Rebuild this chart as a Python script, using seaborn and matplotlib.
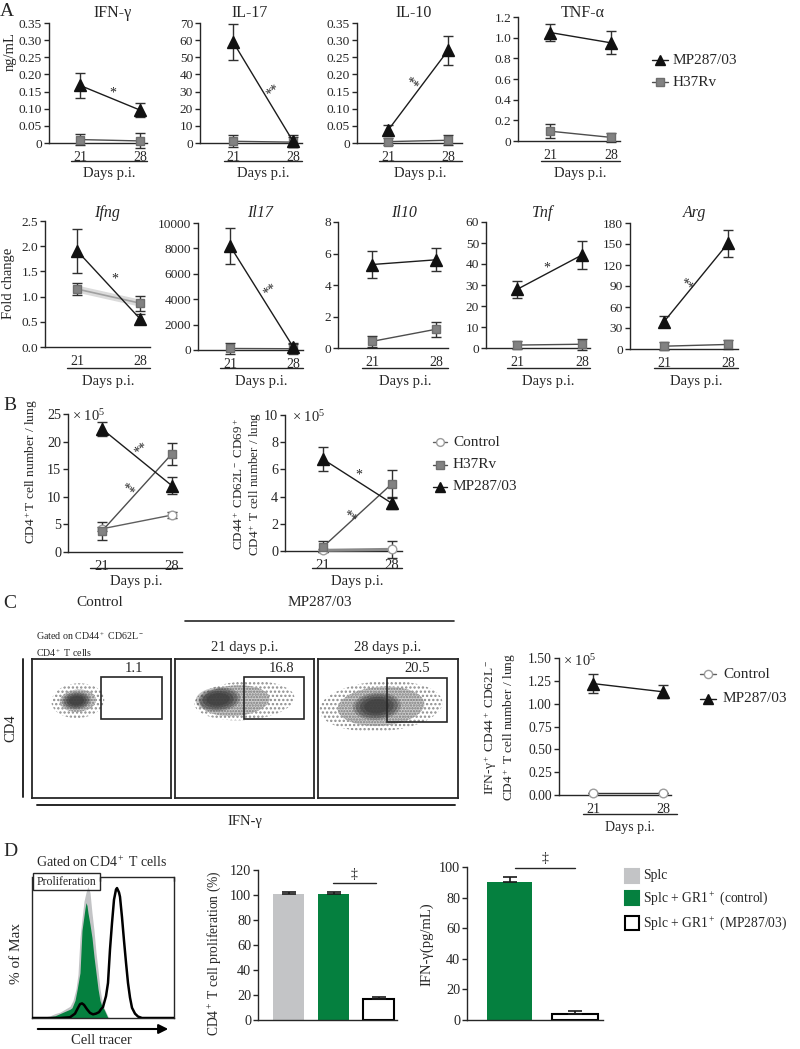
import numpy as np
import pandas as pd
import matplotlib
matplotlib.use('Agg')
import matplotlib.pyplot as plt
import matplotlib.transforms as mtrans
from matplotlib.lines import Line2D
from matplotlib.patches import Rectangle, Ellipse, FancyArrowPatch
from matplotlib.collections import LineCollection
import seaborn as sns

sns.set_theme(style='ticks')
plt.rcParams['font.family'] = ['Liberation Serif', 'DejaVu Serif']
plt.rcParams['mathtext.fontset'] = 'custom'
plt.rcParams['mathtext.rm'] = 'Liberation Serif'
plt.rcParams['mathtext.it'] = 'Liberation Serif:italic'
plt.rcParams['hatch.linewidth'] = 1.1

# ---------------- data ----------------
days = [21, 28]

# Panel A (protein, ng/mL)
ifng_mp, ifng_mp_sem = [0.168, 0.096], [0.036, 0.020]
ifng_h37, ifng_h37_sem = [0.010, 0.006], [0.016, 0.022]
il17_mp, il17_mp_sem = [59.0, 1.0], [10.3, 3.5]
il17_h37, il17_h37_sem = [1.0, 0.5], [3.5, 3.0]
il10_mp, il10_mp_sem = [0.037, 0.270], [0.015, 0.043]
il10_h37, il10_h37_sem = [0.004, 0.008], [0.010, 0.015]
tnfa_mp, tnfa_mp_sem = [1.05, 0.95], [0.08, 0.11]
tnfa_h37, tnfa_h37_sem = [0.095, 0.035], [0.065, 0.045]

# Panel A (mRNA fold change)
ifng_fc_mp, ifng_fc_mp_sem = [1.91, 0.56], [0.44, 0.10]
ifng_fc_h37, ifng_fc_h37_sem = [1.15, 0.87], [0.12, 0.15]
il17_fc_mp, il17_fc_mp_sem = [8200, 260], [1400, 300]
il17_fc_h37, il17_fc_h37_sem = [120, 100], [450, 400]
il10_fc_mp, il10_fc_mp_sem = [5.3, 5.6], [0.87, 0.74]
il10_fc_h37, il10_fc_h37_sem = [0.42, 1.19], [0.36, 0.48]
tnf_fc_mp, tnf_fc_mp_sem = [27.9, 44.3], [4.0, 6.5]
tnf_fc_h37, tnf_fc_h37_sem = [1.4, 1.8], [2.0, 2.7]
arg_fc_mp, arg_fc_mp_sem = [39, 151], [7.5, 19]
arg_fc_h37, arg_fc_h37_sem = [4.0, 6.5], [6.0, 6.0]

# Panel B (x 10^5 cells / lung)
cd4_ctrl, cd4_ctrl_sem = [4.2, 6.7], [0.4, 0.5]
cd4_h37, cd4_h37_sem = [3.8, 17.8], [1.6, 2.0]
cd4_mp, cd4_mp_sem = [22.3, 12.0], [1.3, 1.5]
act_ctrl, act_ctrl_sem = [0.05, 0.12], [0.10, 0.60]
act_h37, act_h37_sem = [0.30, 4.95], [0.40, 1.00]
act_mp, act_mp_sem = [6.75, 3.50], [0.87, 0.40]

# Panel C
flow_titles = ['', '21 days p.i.', '28 days p.i.']
flow_pct = ['1.1', '16.8', '20.5']
ifn_ctrl, ifn_ctrl_sem = [0.02, 0.02], [0.0, 0.0]
ifn_mp, ifn_mp_sem = [1.22, 1.13], [0.10, 0.07]

# Panel D
d_groups = ['Splc', 'Splc + GR1$^+$ (control)', 'Splc + GR1$^+$ (MP287/03)']
prolif = [101, 101, 17]
prolif_sem = [1.2, 1.2, 1.5]
ifn_d_groups = ['Splc + GR1$^+$ (control)', 'Splc + GR1$^+$ (MP287/03)']
ifn_d = [90, 3.8]
ifn_d_sem = [3.5, 2.3]

# histogram traces (cell tracer channel, % of max)
h_black_x = [0, 28, 38, 43, 46, 48, 50, 52, 55, 58, 61, 64, 67, 69, 71, 74, 76, 78, 80, 82,
             84, 85, 87, 88, 90, 92, 94, 96, 98, 100, 103, 106, 110, 142]
h_black_y = [0, 0, 0.5, 3, 7, 9.5, 10, 9, 6, 3.5, 2.5, 3, 4, 6, 7.5, 15, 24, 47, 65, 81,
             88, 89, 86, 83, 69, 53, 38, 24, 14, 7, 3, 1, 0, 0]
h_gray_x = [8, 18, 23, 28, 33, 38, 41, 44, 46, 48, 50, 52, 54, 56, 58, 60, 62, 64, 66, 68,
            70, 72, 74, 76, 78]
h_gray_y = [0, 1.5, 3, 4, 6, 8, 12, 20, 30, 55, 68, 80, 86, 90, 86, 72, 60, 45, 33, 20,
            12, 7, 4, 1, 0]
h_green_x = [13, 18, 23, 28, 33, 38, 40, 43, 45, 48, 50, 52, 53, 54, 55, 56, 58, 60, 62, 64,
             66, 68, 70, 72, 74, 76]
h_green_y = [0, 1, 1.5, 3, 4.5, 6, 7, 12, 19, 31, 60, 70, 75, 79, 77, 72, 64, 55, 42, 31,
             20, 12, 8, 6, 3, 0]

# ---------------- figure ----------------
INK = '#262626'
fig = plt.figure(figsize=(8, 10.49), dpi=100)
fig.patch.set_facecolor('white')
PX = mtrans.Affine2D().scale(1 / 800, -1 / 1049).translate(0, 1) + fig.transFigure


def T(x, y, s, **kw):
    kw.setdefault('ha', 'center')
    kw.setdefault('va', 'center')
    kw.setdefault('color', INK)
    return fig.text(x, y, s, transform=PX, **kw)


def L(xs, ys, **kw):
    kw.setdefault('color', INK)
    kw.setdefault('lw', 1.0)
    ln = Line2D(xs, ys, transform=PX, **kw)
    fig.add_artist(ln)
    return ln


def add_ax(x0, y0, x1, y1):
    ax = fig.add_axes([x0 / 800, 1 - y1 / 1049, (x1 - x0) / 800, (y1 - y0) / 1049])
    ax.patch.set_alpha(0)
    return ax


def style_spines(ax, which=('left', 'bottom')):
    for s in ['left', 'right', 'top', 'bottom']:
        ax.spines[s].set_visible(s in which)
        ax.spines[s].set_color(INK)
        ax.spines[s].set_linewidth(1.0)


STY = {
    'mp': dict(color='#1c1c1c', marker='^', markersize=8, markerfacecolor='#111111',
               markeredgecolor='#111111', linewidth=1.0),
    'h37': dict(color='#4d4d4d', marker='s', markersize=6.2, markerfacecolor='#828282',
                markeredgecolor='#6e6e6e', linewidth=1.0),
    'ctrl': dict(color='#5e5e5e', marker='o', markersize=6.2, markerfacecolor='white',
                 markeredgecolor='#9c9c9c', linewidth=1.0),
}


def series(ax, vals, sem, kind, z=3, **over):
    st = dict(STY[kind])
    st.update(over)
    ax.errorbar(days, vals, yerr=sem, fmt='none', ecolor='#303030', elinewidth=1.0,
                capsize=3.6, capthick=1.0, zorder=z - 0.5)
    sns.lineplot(x=days, y=vals, ax=ax, errorbar=None, legend=False, clip_on=False,
                 zorder=z, markeredgewidth=1.0, **st)


def line_ax(x0, x1, ytop, ybot, p21, p28, ymax, ticks, labels, fs=9.6):
    ax = add_ax(x0, ytop, x1, ybot)
    sc = (p28 - p21) / 7.0
    ax.set_xlim(21 - (p21 - x0) / sc, 28 + (x1 - p28) / sc)
    ax.set_ylim(0, ymax)
    ax.set_yticks(ticks)
    ax.set_yticklabels(labels)
    ax.set_xticks(days)
    ax.set_xticklabels(['21', '28'])
    style_spines(ax)
    ax.tick_params(axis='y', length=3.5, width=1.0, pad=1.5, labelsize=fs, colors=INK)
    ax.tick_params(axis='x', length=0, pad=6, labelsize=fs + 0.4, colors=INK)
    ax.set_xlabel('')
    ax.set_ylabel('')
    return ax


def days_label(x0, x1, yl, yt, fs=10.5):
    L([x0, x1], [yl, yl], lw=1.0)
    T((x0 + x1) / 2, yt, 'Days p.i.', fontsize=fs)


def unclip(ax):
    for ch in ax.get_children():
        if isinstance(ch, (Line2D, LineCollection)):
            ch.set_clip_on(False)


# ---------------- Panel A top ----------------
T(7, 12, 'A', fontsize=14)
T(10, 52, 'ng/mL', fontsize=10.5, rotation=90)

a_top = [
    ('IFN-γ', 113, 49, 147, 23, 143, 80, 140, 0.35, np.arange(0, 0.351, 0.05), 2,
     ifng_mp, ifng_mp_sem, ifng_h37, ifng_h37_sem),
    ('IL-17', 250, 200, 302, 23, 143, 233, 293, 70, np.arange(0, 71, 10), 0,
     il17_mp, il17_mp_sem, il17_h37, il17_h37_sem),
    ('IL-10', 414, 357, 462, 23, 143, 388, 448, 0.35, np.arange(0, 0.351, 0.05), 2,
     il10_mp, il10_mp_sem, il10_h37, il10_h37_sem),
    ('TNF-α', 583, 518, 620, 17, 141, 550, 611, 1.2, np.arange(0, 1.21, 0.2), 1,
     tnfa_mp, tnfa_mp_sem, tnfa_h37, tnfa_h37_sem),
]
for (ttl, tx, x0, x1, yt, yb, p21, p28, ymax, ticks, nd, mp, mps, h, hs) in a_top:
    labs = ['0'] + [f'{v:.{nd}f}' for v in ticks[1:]] if nd else [f'{v:.0f}' for v in ticks]
    ax = line_ax(x0, x1, yt, yb, p21, p28, ymax, ticks, labs)
    series(ax, h, hs, 'h37', z=3)
    series(ax, mp, mps, 'mp', z=4)
    unclip(ax)
    T(tx, 13, ttl, fontsize=11.5)
    days_label(p21 - 9, x1, 161, 173)

# legend A
for (lab, kind, y) in [('MP287/03', 'mp', 60), ('H37Rv', 'h37', 82)]:
    st = STY[kind]
    L([652, 668], [y, y], color=st['color'], lw=1.0)
    L([660], [y], marker=st['marker'], markersize=st['markersize'] * 0.95,
      markerfacecolor=st['markerfacecolor'], markeredgecolor=st['markeredgecolor'], lw=0)
    T(673, y, lab, fontsize=11, ha='left')

# ---------------- Panel A bottom ----------------
T(9, 283, 'Fold change', fontsize=10.5, rotation=90)
a_bot = [
    ('Ifng', 107, 45, 150, 221, 347, 77, 140, 2.5, np.arange(0, 2.51, 0.5), 1,
     ifng_fc_mp, ifng_fc_mp_sem, ifng_fc_h37, ifng_fc_h37_sem),
    ('Il17', 260, 198, 303, 223, 350, 230, 293, 10000, np.arange(0, 10001, 2000), 0,
     il17_fc_mp, il17_fc_mp_sem, il17_fc_h37, il17_fc_h37_sem),
    ('Il10', 404, 338, 448, 222, 348, 372, 436, 8, np.arange(0, 8.1, 2), 0,
     il10_fc_mp, il10_fc_mp_sem, il10_fc_h37, il10_fc_h37_sem),
    ('Tnf', 543, 486, 590, 222, 348, 517, 582, 60, np.arange(0, 61, 10), 0,
     tnf_fc_mp, tnf_fc_mp_sem, tnf_fc_h37, tnf_fc_h37_sem),
    ('Arg', 695, 630, 738, 223, 349, 664, 728, 180, np.arange(0, 181, 30), 0,
     arg_fc_mp, arg_fc_mp_sem, arg_fc_h37, arg_fc_h37_sem),
]
for i, (ttl, tx, x0, x1, yt, yb, p21, p28, ymax, ticks, nd, mp, mps, h, hs) in enumerate(a_bot):
    labs = [f'{v:.{nd}f}' for v in ticks]
    ax = line_ax(x0, x1, yt, yb, p21, p28, ymax, ticks, labs)
    if i == 0:
        sns.lineplot(x=days, y=h, ax=ax, color='#d2d2d2', linewidth=5, alpha=0.8,
                     errorbar=None, legend=False, zorder=2)
        series(ax, h, hs, 'h37', z=3, color='#a0a0a0', linewidth=1.2)
    else:
        series(ax, h, hs, 'h37', z=3)
    series(ax, mp, mps, 'mp', z=4)
    unclip(ax)
    T(tx, 213, ttl, fontsize=11.5, style='italic')
    days_label(p21 - 10, x1, 368, 381)

# significance marks (A)
for (s, x, y, r) in [('*', 113, 93, 0), ('**', 273, 91, 40), ('**', 411, 84, -40),
                     ('*', 115, 279, 0), ('**', 270, 291, 38), ('*', 547, 268, 0),
                     ('**', 686, 285, -42)]:
    T(x, y, s, fontsize=10, rotation=r)

# ---------------- Panel B ----------------
T(10, 405, 'B', fontsize=14)
axb1 = line_ax(68, 182, 414, 552, 102, 172, 25, np.arange(0, 26, 5),
               [str(v) for v in range(0, 26, 5)], fs=10.2)
series(axb1, cd4_ctrl, cd4_ctrl_sem, 'ctrl', z=2.6)
series(axb1, cd4_h37, cd4_h37_sem, 'h37', z=3)
series(axb1, cd4_mp, cd4_mp_sem, 'mp', z=4)
unclip(axb1)
T(72, 416, r'$\times$ 10$^5$', fontsize=10.5, ha='left')
T(32, 472, 'CD4$^+$T cell number / lung', fontsize=9.6, rotation=90)
days_label(90, 182, 568, 582)

axb2 = line_ax(285, 402, 415, 551, 323, 392, 10, np.arange(0, 11, 2),
               [str(v) for v in range(0, 11, 2)], fs=10.2)
series(axb2, act_ctrl, act_ctrl_sem, 'ctrl', z=2.6, color='#8a8a8a', linewidth=2.2)
series(axb2, act_h37, act_h37_sem, 'h37', z=3)
series(axb2, act_mp, act_mp_sem, 'mp', z=4)
unclip(axb2)
T(292, 417, r'$\times$ 10$^5$', fontsize=10.5, ha='left')
T(248, 484, 'CD44$^+$ CD62L$^-$ CD69$^+$\nCD4$^+$ T cell number / lung', fontsize=9.4,
  rotation=90, linespacing=1.1)
days_label(312, 402, 568, 582)

for (s, x, y, r) in [('**', 141, 450, 38), ('**', 127, 490, -40), ('*', 359, 475, 0),
                     ('**', 349, 517, -40)]:
    T(x, y, s, fontsize=10, rotation=r)

for (lab, kind, y) in [('Control', 'ctrl', 442), ('H37Rv', 'h37', 465), ('MP287/03', 'mp', 487)]:
    st = STY[kind]
    L([433, 447], [y, y], color=st['color'], lw=1.0)
    L([440], [y], marker=st['marker'], markersize=st['markersize'] * 0.9,
      markerfacecolor=st['markerfacecolor'], markeredgecolor=st['markeredgecolor'], lw=0)
    T(453, y, lab, fontsize=11, ha='left')

# ---------------- Panel C ----------------
T(10, 603, 'C', fontsize=14)
T(100, 603, 'Control', fontsize=11)
T(320, 603, 'MP287/03', fontsize=11)
L([185, 454], [621, 621], lw=1.2)
T(36, 636, 'Gated on CD44$^+$ CD62L$^-$', fontsize=7.2, ha='left')
T(36, 653, 'CD4$^+$ T cells', fontsize=7.2, ha='left')

flow_boxes = [(32, 171), (175, 314), (318, 458)]
gates = [(49.6, 57, 43.9, 30), (50, 57, 43, 30), (49, 55, 43, 31)]
pct_pos = [(73, 93), (77, 93), (71, 93)]
clouds = [
    [(33, 70, 38, 25, 'dots'), (33, 70, 26, 16, 'dots2'), (32, 70, 18, 11, 'core')],
    [(50, 70, 72, 28, 'dots'), (43, 70, 50, 22, 'dots2'), (31, 71, 28, 15, 'core')],
    [(45, 66, 88, 36, 'dots'), (45, 66, 62, 28, 'dots2'), (42, 66, 30, 17, 'core')],
]
for i, ((x0, x1), g, pp, cl) in enumerate(zip(flow_boxes, gates, pct_pos, clouds)):
    ax = add_ax(x0, 659, x1, 798)
    ax.set_xlim(0, 100)
    ax.set_ylim(0, 100)
    ax.set_xticks([])
    ax.set_yticks([])
    style_spines(ax, ('left', 'right', 'top', 'bottom'))
    for s in ax.spines.values():
        s.set_linewidth(1.3)
    for (cx, cy, w, h, kind) in cl:
        if kind == 'core':
            for k, a in [(1.15, 0.3), (1.0, 0.4), (0.8, 0.5), (0.6, 0.6)]:
                ax.add_patch(Ellipse((cx, cy), w * k, h * k, angle=4, facecolor='#3c3c3c',
                                     edgecolor='none', alpha=a, zorder=3))
        elif kind == 'dots':
            ax.add_patch(Ellipse((cx, cy), w, h, angle=4, facecolor='none',
                                 edgecolor='#8c8c8c', hatch='....', lw=0, zorder=2))
        else:
            ax.add_patch(Ellipse((cx, cy), w, h, angle=4, facecolor='#c4c4c4',
                                 edgecolor='#6a6a6a', hatch='......', lw=0, alpha=0.8, zorder=2))
    ax.add_patch(Rectangle((g[0], g[1]), g[2], g[3], fill=False, lw=1.2, ec=INK, zorder=5))
    ax.text(pp[0], pp[1], flow_pct[i], ha='center', va='center', fontsize=10.5, color=INK,
            transform=ax.transData)
    if flow_titles[i]:
        T((x0 + x1) / 2, 648, flow_titles[i], fontsize=10.5)

L([23, 23], [659, 797], lw=1.4)
T(11, 728, 'CD4', fontsize=10.5, rotation=90)
L([37, 455], [805, 805], lw=1.4)
T(245, 821, 'IFN-γ', fontsize=10.5)

axc = line_ax(559, 671, 658, 795, 593, 663, 1.5, np.arange(0, 1.51, 0.25),
              [f'{v:.2f}' for v in np.arange(0, 1.51, 0.25)], fs=9.8)
series(axc, ifn_ctrl, ifn_ctrl_sem, 'ctrl', z=3, color='#333333', linewidth=1.0)
series(axc, ifn_mp, ifn_mp_sem, 'mp', z=4)
unclip(axc)
T(563, 661, r'$\times$ 10$^5$', fontsize=10.5, ha='left')
T(500, 727, 'IFN-γ$^+$ CD44$^+$ CD62L$^-$\nCD4$^+$ T cell number / lung', fontsize=9.6,
  rotation=90, linespacing=1.15)
days_label(583, 677, 814, 828, fs=10)
for (lab, kind, y) in [('Control', 'ctrl', 674), ('MP287/03', 'mp', 699)]:
    st = STY[kind]
    L([700, 716], [y, y], color=st['color'], lw=1.0)
    L([708], [y], marker=st['marker'], markersize=st['markersize'] * 0.95,
      markerfacecolor=st['markerfacecolor'], markeredgecolor=st['markeredgecolor'], lw=0)
    T(723, y, lab, fontsize=11, ha='left')

# ---------------- Panel D ----------------
T(10, 852, 'D', fontsize=14)
T(36, 862, 'Gated on CD4$^+$ T cells', fontsize=10, ha='left')

GRAY, GREEN = '#c3c4c6', '#05803f'
axh = add_ax(32, 877, 174, 1018)
axh.set_xlim(0, 142)
axh.set_ylim(0, (1018 - 877) / 146 * 100)
axh.fill_between(h_gray_x, h_gray_y, color=GRAY, lw=0, zorder=1)
axh.fill_between(h_green_x, h_green_y, color=GREEN, lw=0, zorder=2)
sns.lineplot(x=h_black_x, y=h_black_y, ax=axh, color='black', linewidth=1.8,
             errorbar=None, legend=False, zorder=3, sort=False)
axh.set_xticks([])
axh.set_yticks([])
axh.set_xlabel('')
axh.set_ylabel('')
style_spines(axh, ('left', 'right', 'bottom'))
fig.add_artist(Rectangle((33, 873), 67, 17, transform=PX, fill=False, lw=1.0, ec=INK))
L([100, 100, 174, 174], [881, 877, 877, 881], lw=1.0)
T(66, 882, 'Proliferation', fontsize=8.5)
fig.add_artist(FancyArrowPatch((35, 1029), (171, 1029), transform=PX, arrowstyle='-|>',
                               mutation_scale=14, lw=1.5, color='black'))
T(101, 1041, 'Cell tracer', fontsize=10.5)
T(17, 954, '% of Max', fontsize=11, rotation=90)

bar_colors = [GRAY, GREEN, 'white']
bar_edges = [GRAY, GREEN, 'black']


def bar_ax(x0, x1, ytop, ybot, c0, step, groups, vals, sem, colors, edges, ymax, ticks):
    ax = add_ax(x0, ytop, x1, ybot)
    df = pd.DataFrame({'group': groups, 'val': vals})
    sns.barplot(data=df, x='group', y='val', hue='group', palette=colors, legend=False,
                ax=ax, width=0.69, errorbar=None, saturation=1, order=groups, hue_order=groups)
    for p, e in zip(ax.patches, edges):
        p.set_edgecolor(e)
        p.set_linewidth(1.5 if e == 'black' else 0)
    xs = np.arange(len(groups))
    ax.errorbar(xs, vals, yerr=[np.zeros(len(vals)), sem], fmt='none', ecolor='#1a1a1a',
                elinewidth=1.2, capsize=5, capthick=1.2, zorder=1)
    ax.set_xlim(-(c0 - x0) / step, len(groups) - 1 + (x1 - (c0 + step * (len(groups) - 1))) / step)
    ax.set_ylim(0, ymax)
    ax.set_yticks(ticks)
    ax.set_yticklabels([str(int(t)) for t in ticks])
    ax.set_xticks([])
    ax.set_xlabel('')
    ax.set_ylabel('')
    style_spines(ax)
    ax.tick_params(axis='y', length=3.5, width=1.0, pad=1.5, labelsize=10.3, colors=INK)
    unclip(ax)
    return ax


bar_ax(258, 397, 870, 1020, 288.5, 45, d_groups, prolif, prolif_sem, bar_colors, bar_edges,
       120, np.arange(0, 121, 20))
T(214, 953, 'CD4$^+$ T cell proliferation (%)', fontsize=9.8, rotation=90)
L([333, 376], [883, 883], lw=1.0)
T(354, 874, '‡', fontsize=10)

bar_ax(467, 603, 867, 1020, 509.5, 65.5, ifn_d_groups, ifn_d, ifn_d_sem, bar_colors[1:],
       bar_edges[1:], 100, np.arange(0, 101, 20))
T(427, 944, 'IFN-γ(pg/mL)', fontsize=10.5, rotation=90)
L([515, 575], [868, 868], lw=1.0)
T(545, 858, '‡', fontsize=10)

for (lab, fc, ec, y) in [('Splc', GRAY, GRAY, 876), ('Splc + GR1$^+$ (control)', GREEN, GREEN, 898),
                         ('Splc + GR1$^+$ (MP287/03)', 'white', 'black', 923)]:
    L([632], [y], marker='s', markersize=10, markerfacecolor=fc, markeredgecolor=ec,
      markeredgewidth=1.5, lw=0)
    T(643, y, lab, fontsize=9.8, ha='left')

fig.savefig('out.png', dpi=100, facecolor='white')
